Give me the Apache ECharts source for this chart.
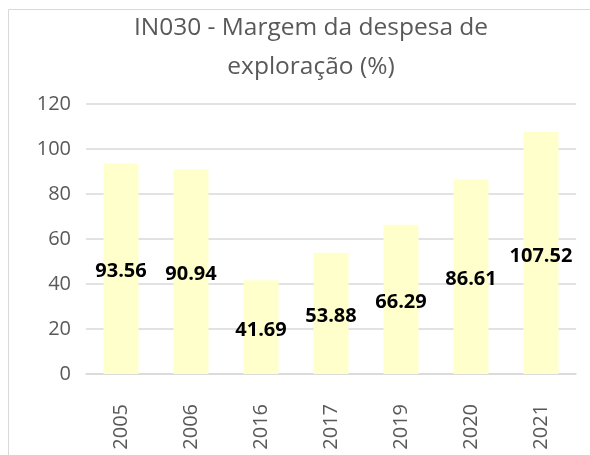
<!DOCTYPE html>
<html>
<head>
<meta charset="utf-8">
<script src="https://cdn.jsdelivr.net/npm/echarts@6/dist/echarts.min.js"></script>
<style>
  html, body { margin: 0; padding: 0; background: #fff; }
  #main { width: 590px; height: 455px; }
</style>
</head>
<body>
<div id="main"></div>
<script>
  var years = ['2005', '2006', '2016', '2017', '2019', '2020', '2021'];
  var margem = [93.56, 90.94, 41.69, 53.88, 66.29, 86.61, 107.52];
  var yTicks = [0, 20, 40, 60, 80, 100, 120];

  var myChart = echarts.init(document.getElementById('main'));
  var fontFam = '"Open Sans", sans-serif';

  myChart.setOption({
    animation: false,
    backgroundColor: '#fff',
    graphic: [{
      type: 'rect',
      shape: { x: 8.5, y: 9.5, width: 620, height: 480 },
      style: { fill: 'none', stroke: '#d9d9d9', lineWidth: 1 },
      silent: true
    }],
    title: {
      text: 'IN030 - Margem da despesa de\nexploração (%)',
      left: 306,
      top: 4,
      textAlign: 'center',
      textStyle: {
        fontFamily: fontFam,
        fontSize: 24.5,
        fontWeight: 'normal',
        color: '#595959',
        lineHeight: 39
      }
    },
    grid: {
      left: 86,
      right: 14,
      top: 104,
      bottom: 81
    },
    xAxis: {
      type: 'category',
      data: years,
      axisLine: { lineStyle: { color: '#d9d9d9', width: 1.5 } },
      axisTick: { show: false },
      axisLabel: {
        rotate: 90,
        margin: 30,
        fontFamily: fontFam,
        fontSize: 20,
        color: '#595959'
      }
    },
    yAxis: {
      type: 'value',
      min: yTicks[0],
      max: yTicks[yTicks.length - 1],
      interval: 20,
      axisLine: { show: false },
      axisTick: { show: false },
      splitLine: { lineStyle: { color: '#d9d9d9', width: 1.5 } },
      axisLabel: {
        margin: 15,
        fontFamily: fontFam,
        fontSize: 20,
        color: '#595959'
      }
    },
    series: [{
      name: 'IN030',
      type: 'bar',
      data: margem,
      barWidth: '50%',
      itemStyle: { color: '#ffffcc' },
      label: {
        show: true,
        position: 'inside',
        offset: [0, 3],
        fontFamily: fontFam,
        fontSize: 20,
        fontWeight: 'bold',
        color: '#000',
        formatter: function (p) { return p.value.toFixed(2); }
      }
    }]
  });
</script>
</body>
</html>
